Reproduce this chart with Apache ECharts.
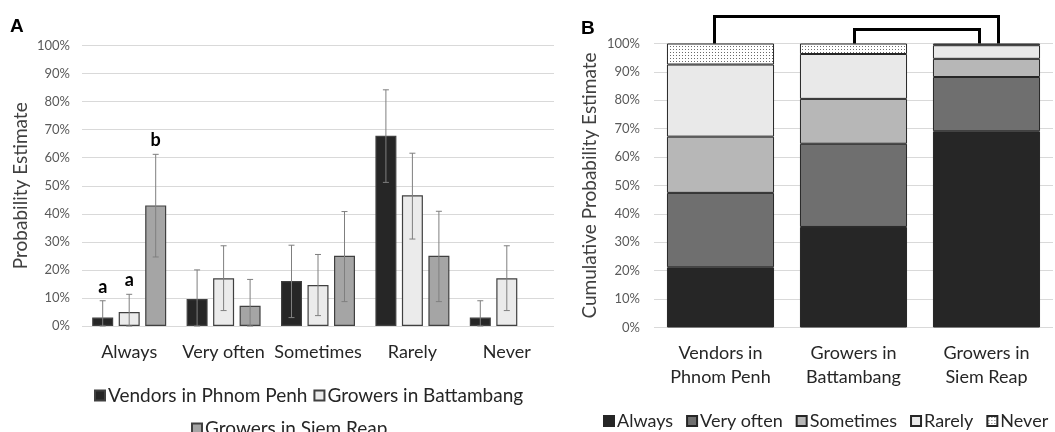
<!DOCTYPE html>
<html>
<head>
<meta charset="utf-8">
<script src="https://cdn.jsdelivr.net/npm/echarts@6/dist/echarts.min.js"></script>
<style>
html, body { margin: 0; padding: 0; background: #fff; }
#main { width: 1055px; height: 432px; }
</style>
</head>
<body>
<div id="main"></div>
<script>
// panel A: probability estimates by answer
var answers = ['Always', 'Very often', 'Sometimes', 'Rarely', 'Never'];
var groups = ['Vendors in Phnom Penh', 'Growers in Battambang', 'Growers in Siem Reap'];
var vendors = [3, 9.6, 16, 67.8, 3];
var battambang = [5, 17, 14.6, 46.6, 17];
var siemReap = [43, 7.2, 25, 25, null];
var vendorsLow = [0, 0, 3, 51.2, 0];
var vendorsHigh = [9, 20, 28.8, 84.2, 9];
var battambangLow = [0, 5.5, 3.7, 31, 5.5];
var battambangHigh = [11.3, 28.6, 25.5, 61.6, 28.6];
var siemReapLow = [24.6, 0, 8.7, 8.7, null];
var siemReapHigh = [61.2, 16.6, 40.8, 40.9, null];
var letters = [['a', '', '', '', ''], ['a', '', '', '', ''], ['b', '', '', '', '']];

// panel B: cumulative estimates by group
var groupLabels = ['Vendors in\nPhnom Penh', 'Growers in\nBattambang', 'Growers in\nSiem Reap'];
var always = [21.2, 35.4, 69.1];
var veryOften = [26.2, 29.3, 19.1];
var sometimes = [19.8, 15.8, 6.4];
var rarely = [25.4, 15.8, 4.8];
var never = [7.4, 3.7, 0.6];
var brackets = [[0, 2], [1, 2]];

var font = 'Lato, "Open Sans", sans-serif';
var textColor = '#262626';
var tickColor = '#595959';

// dotted fill for "Never"
var dots = document.createElement('canvas');
dots.width = 3;
dots.height = 3;
var dctx = dots.getContext('2d');
dctx.fillStyle = '#fff';
dctx.fillRect(0, 0, 3, 3);
dctx.fillStyle = '#6a6a6a';
dctx.fillRect(1, 1, 1, 1);

var barW = 21;
var barGapPx = 5.5;

function errorSeries(name, idx, low, high) {
	var data = [];
	for (var i = 0; i < low.length; i++) {
		if (low[i] == null) continue;
		data.push([i, low[i], high[i], letters[idx][i]]);
	}
	return {
		type: 'custom',
		name: name + ' err',
		xAxisIndex: 0,
		yAxisIndex: 0,
		z: 5,
		silent: true,
		encode: { x: 0, y: [1, 2] },
		data: data,
		renderItem: function(params, api) {
			var off = (idx - 1) * (barW + barGapPx);
			var x = api.coord([api.value(0), 0])[0] + off;
			var yLow = api.coord([api.value(0), api.value(1)])[1];
			var yHigh = api.coord([api.value(0), api.value(2)])[1];
			var st = { stroke: '#7f7f7f', lineWidth: 1 };
			var children = [
				{ type: 'line', shape: { x1: x, y1: yLow, x2: x, y2: yHigh }, style: st },
				{ type: 'line', shape: { x1: x - 3, y1: yHigh, x2: x + 3, y2: yHigh }, style: st },
				{ type: 'line', shape: { x1: x - 3, y1: yLow, x2: x + 3, y2: yLow }, style: st }
			];
			var txt = api.value(3);
			if (txt) {
				children.push({
					type: 'text',
					x: x,
					y: yHigh - 5,
					style: {
						text: txt,
						font: 'bold 18px ' + font,
						fill: '#000',
						textAlign: 'center',
						textVerticalAlign: 'bottom'
					}
				});
			}
			return { type: 'group', children: children };
		}
	};
}

function barA(name, data, color) {
	return {
		type: 'bar',
		name: name,
		xAxisIndex: 0,
		yAxisIndex: 0,
		barWidth: barW,
		barGap: (barGapPx / barW * 100) + '%',
		data: data,
		itemStyle: { color: color, borderColor: '#404040', borderWidth: 1.2 }
	};
}

function barB(name, data, color) {
	return {
		type: 'bar',
		name: name,
		xAxisIndex: 1,
		yAxisIndex: 1,
		stack: 'cum',
		barWidth: '80.5%',
		data: data,
		itemStyle: { color: color, borderColor: '#262626', borderWidth: 1 }
	};
}

var chart = echarts.init(document.getElementById('main'));

var yAxisCommon = {
	type: 'value',
	min: 0,
	max: 100,
	interval: 10,
	axisLine: { show: false },
	axisTick: { show: false },
	splitLine: { lineStyle: { color: '#d9d9d9' } },
	nameLocation: 'middle',
	nameTextStyle: { fontFamily: font, fontSize: 19, color: '#404040' }
};

var legendText = { fontFamily: font, fontSize: 19, color: textColor, padding: [0, 0, 0, -2] };

var option = {
	animation: false,
	textStyle: { fontFamily: font },
	grid: [
		{ left: 82, right: 1055 - 554, top: 45.5, bottom: 432 - 326 },
		{ left: 654, right: 2, top: 43.5, bottom: 432 - 327.5 }
	],
	legend: [
		{
			data: groups.slice(0, 2),
			left: 89, top: 381,
			icon: 'rect',
			itemWidth: 10, itemHeight: 10, itemGap: 6,
			textStyle: legendText
		},
		{
			data: groups.slice(2),
			left: 186, top: 414,
			icon: 'rect',
			itemWidth: 10, itemHeight: 10,
			textStyle: legendText
		},
		{
			data: ['Always', 'Very often', 'Sometimes', 'Rarely', 'Never'],
			left: 598, top: 407,
			icon: 'rect',
			itemWidth: 10, itemHeight: 10, itemGap: 13,
			textStyle: { fontFamily: font, fontSize: 18, color: textColor, padding: [0, 0, 0, -2] }
		}
	],
	xAxis: [
		{
			type: 'category',
			gridIndex: 0,
			data: answers,
			axisLine: { show: false },
			axisTick: { show: false },
			axisLabel: { interval: 0, hideOverlap: false, fontFamily: font, fontSize: 18, color: textColor, margin: 16, lineHeight: 20 }
		},
		{
			type: 'category',
			gridIndex: 1,
			data: groupLabels,
			axisLine: { show: false },
			axisTick: { show: false },
			axisLabel: { interval: 0, fontFamily: font, fontSize: 18, color: textColor, margin: 14, lineHeight: 24 }
		}
	],
	yAxis: [
		echarts.util.merge({
			gridIndex: 0,
			name: 'Probability Estimate',
			nameGap: 52,
			axisLabel: { fontFamily: font, fontSize: 13, color: tickColor, margin: 12, formatter: '{value}%' }
		}, yAxisCommon),
		echarts.util.merge({
			gridIndex: 1,
			name: 'Cumulative Probability Estimate',
			nameGap: 55,
			axisLabel: { fontFamily: font, fontSize: 13, color: tickColor, margin: 14, formatter: '{value}%' }
		}, yAxisCommon)
	],
	series: [
		barA(groups[0], vendors, '#262626'),
		barA(groups[1], battambang, '#ebebeb'),
		barA(groups[2], siemReap, '#a5a5a5'),
		errorSeries(groups[0], 0, vendorsLow, vendorsHigh),
		errorSeries(groups[1], 1, battambangLow, battambangHigh),
		errorSeries(groups[2], 2, siemReapLow, siemReapHigh),
		barB('Always', always, '#262626'),
		barB('Very often', veryOften, '#6f6f6f'),
		barB('Sometimes', sometimes, '#b7b7b7'),
		barB('Rarely', rarely, '#e9e9e9'),
		barB('Never', never, { image: dots, repeat: 'repeat' })
	]
};
chart.setOption(option);

// panel letters and comparison brackets
var y100 = chart.convertToPixel({ yAxisIndex: 1 }, 100);
var bracketRise = [27, 14];
var bracketDx = [[-6, 12], [1, -7]];
var graphics = [
	{ type: 'text', left: 10, top: 17, style: { text: 'A', font: 'bold 19px "Liberation Sans", Arial, sans-serif', fill: '#000' } },
	{ type: 'text', left: 581, top: 19, style: { text: 'B', font: 'bold 19px "Liberation Sans", Arial, sans-serif', fill: '#000' } }
];
for (var k = 0; k < brackets.length; k++) {
	var x1 = chart.convertToPixel({ xAxisIndex: 1 }, brackets[k][0]) + bracketDx[k][0];
	var x2 = chart.convertToPixel({ xAxisIndex: 1 }, brackets[k][1]) + bracketDx[k][1];
	var yt = y100 - bracketRise[k];
	graphics.push({
		type: 'polyline',
		z: 10,
		shape: { points: [[x1, y100], [x1, yt], [x2, yt], [x2, y100]] },
		style: { stroke: '#000', lineWidth: 3, fill: null }
	});
}
chart.setOption({ graphic: graphics });
</script>
</body>
</html>
